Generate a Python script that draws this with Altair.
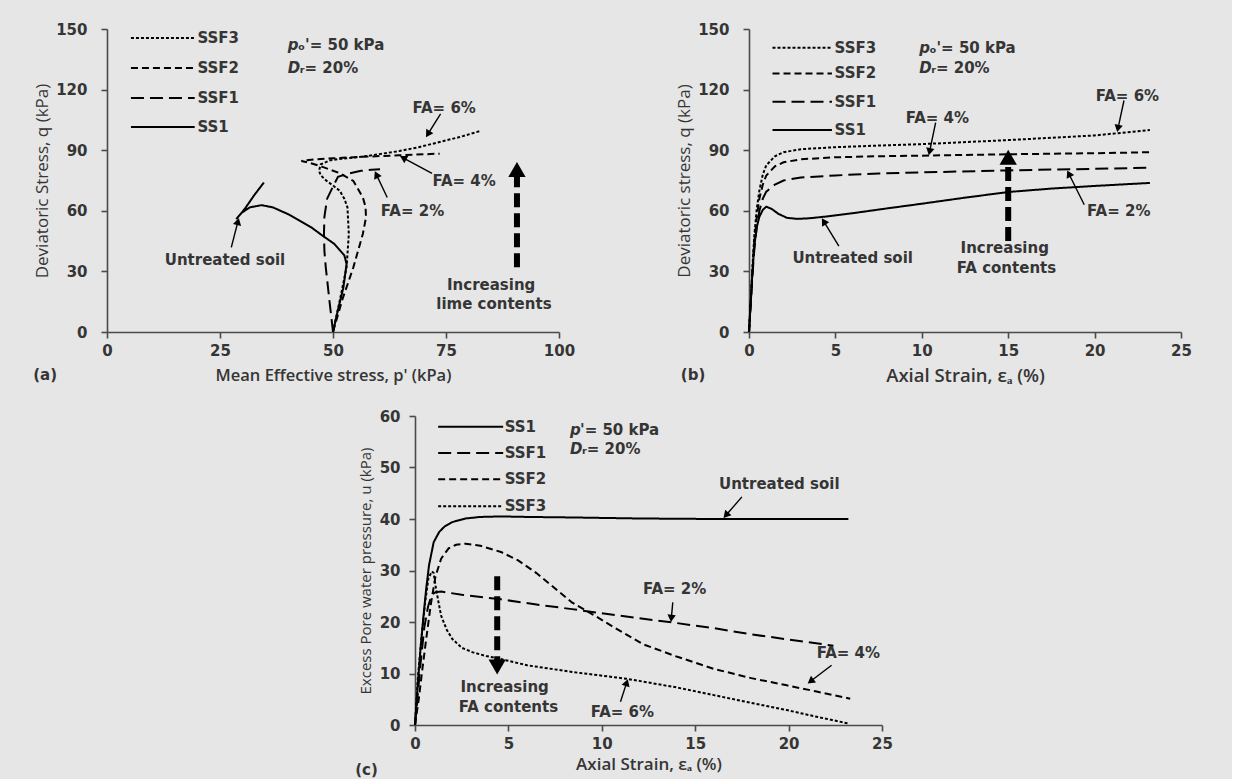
import math
import altair as alt
import pandas as pd

# ---------------------------------------------------------------- data
SERIES = ["SS1", "SSF1", "SSF2", "SSF3"]
DASHES = [[1, 0], [13, 6], [7, 4], [3, 2]]

# (a) stress paths: mean effective stress p' (kPa) vs deviatoric stress q (kPa)
A_SS1_P = [50, 51, 52.3, 53, 52.5, 50.3, 47.5, 45.2, 42.5, 40, 36.7, 34.2, 31.6, 29.9, 28.6, 30.5, 32.5, 34.7]
A_SS1_Q = [0, 10, 22, 33.7, 38, 43.6, 48, 51.8, 55.3, 58.4, 61.7, 62.8, 61.7, 59.2, 55.9, 61, 67.5, 74]
A_SSF1_P = [50, 49.6, 49.2, 48.8, 48.4, 48.1, 48, 48.1, 48.7, 50, 51.1, 53.5, 56.2, 58.5, 60.4]
A_SSF1_Q = [0, 8, 15.6, 24, 32, 40, 48.5, 57, 66, 72, 76.8, 78.5, 79.8, 80.3, 80.6]
A_SSF2_P = [50, 52, 54.5, 56.6, 57.3, 57.2, 56.6, 54.5, 51.5, 48, 45.5, 44, 43, 46, 50, 56.2, 64.7, 73.6]
A_SSF2_Q = [0, 15.6, 32, 48.5, 56.7, 62, 66.6, 74.8, 78.6, 81.5, 83.3, 84.2, 84.7, 85.5, 86, 86.7, 87.5, 88.3]
A_SSF3_P = [50, 51.5, 53, 53.5, 53.2, 52.5, 51.5, 50, 48.6, 47.3, 46.9, 47.3, 49.4, 52, 56.2, 60, 64.7, 69, 73.1, 78, 82.6]
A_SSF3_Q = [0, 15.6, 32, 48.5, 61.7, 66, 69.9, 72.5, 74.8, 77.5, 79.8, 83, 85, 85.8, 86.7, 88, 89.6, 91.5, 93.8, 96.5, 99.5]

# (b) axial strain (%) vs deviatoric stress q (kPa)
B_SS1_E = [0, 0.1, 0.2, 0.3, 0.45, 0.6, 0.8, 1.0, 1.3, 1.7, 2.2, 2.8, 3.5, 4.5, 6, 8, 10, 12.5, 15, 17.5, 20, 23.2]
B_SS1_Q = [0, 15, 30, 42, 52, 57, 60.5, 62, 61, 58.5, 56.5, 56, 56.3, 57.2, 58.8, 61.2, 63.5, 66.5, 69.3, 71, 72.3, 73.8]
B_E = [0, 0.1, 0.2, 0.3, 0.45, 0.6, 0.8, 1.0, 1.5, 2, 3, 5, 7.5, 10, 15, 20, 23.2]
B_SSF1_Q = [0, 14, 28, 40, 52, 60, 66, 69.5, 73, 75, 76.5, 77.5, 78.5, 79, 80, 80.8, 81.3]
B_SSF2_Q = [0, 14, 30, 44, 57, 66, 73, 77.5, 82, 84, 85.5, 86.5, 87, 87.3, 88, 88.5, 89]
B_SSF3_Q = [0, 15, 32, 47, 61, 70, 78, 82.5, 87, 89, 90.5, 91.5, 92.3, 93, 95, 97.3, 100]

# (c) axial strain (%) vs excess pore water pressure u (kPa)
C_SS1_E = [0, 0.15, 0.3, 0.45, 0.6, 0.75, 1.0, 1.3, 1.6, 2.0, 2.7, 3.5, 4.6, 6, 8.4, 12, 16, 20, 23.2]
C_SS1_U = [0, 8, 15, 21, 26.5, 31, 35.5, 37.5, 38.6, 39.4, 40.1, 40.4, 40.5, 40.4, 40.3, 40.1, 40, 40, 40]
C_SSF1_E = [0, 0.15, 0.3, 0.5, 0.7, 0.9, 1.1, 1.4, 2.5, 4.6, 6.5, 8.4, 11, 13.8, 16, 18, 20, 22.4]
C_SSF1_U = [0, 6, 12, 19, 23, 25.3, 25.8, 25.9, 25.3, 24.4, 23.4, 22.5, 21.2, 19.9, 18.8, 17.6, 16.6, 15.4]
C_SSF2_E = [0, 0.2, 0.4, 0.6, 0.85, 1.1, 1.4, 1.8, 2.2, 2.7, 3.5, 4.6, 5.5, 6.5, 7.5, 8.4, 9.5, 10.5, 12.2, 14, 16, 18, 19.9, 21.5, 23.3]
C_SSF2_U = [0, 5, 11, 16.7, 23.5, 28.9, 32.3, 34.3, 35, 35.2, 34.8, 33.6, 32, 29.5, 26.5, 23.8, 21.5, 19.3, 15.7, 13.3, 10.9, 9.1, 7.7, 6.5, 5.1]
C_SSF3_E = [0, 0.15, 0.34, 0.55, 0.72, 0.9, 1.0, 1.1, 1.25, 1.4, 1.7, 2.0, 2.5, 3.1, 3.8, 4.6, 6, 8.4, 11.3, 14, 16, 18, 19.9, 21.5, 23.2]
C_SSF3_U = [0, 9, 16.7, 24, 28.5, 29.8, 29.5, 27, 24, 21.2, 18.5, 16.7, 15, 14.1, 13.4, 12.8, 11.6, 10.3, 9, 7.3, 5.8, 4.3, 2.9, 1.6, 0.3]

# legends (series order, row positions, line x-range, label x)
A_LEG = (["SSF3", "SSF2", "SSF1", "SS1"], [145.5, 130.7, 115.8, 101.5], (5.3, 19.4, 20.0))
B_LEG = (["SSF3", "SSF2", "SSF1", "SS1"], [140.7, 128.0, 114.0, 100.0], (1.36, 4.8, 4.95))
C_LEG = (["SS1", "SSF1", "SSF2", "SSF3"], [57.9, 52.8, 47.7, 42.5], (1.24, 4.72, 4.8))

# labelled arrows: (text x, text y, text, tail x, tail y, tip x, tip y)
A_NOTES = [(74.6, 111, "FA= 6%", 73.8, 108, 70.5, 96.2),
           (79.0, 74.8, "FA= 4%", 71.9, 78.5, 64.7, 87.2),
           (67.6, 59.7, "FA= 2%", 62.0, 66.6, 59.2, 79.8),
           (26.1, 35.4, "Untreated soil", 27.5, 41.9, 29.2, 56.7)]
B_NOTES = [(10.9, 106, "FA= 4%", 10.8, 103.6, 10.4, 87.2),
           (21.9, 117, "FA= 6%", 21.7, 114.6, 21.3, 98.7),
           (21.4, 60, "FA= 2%", 19.4, 63, 18.4, 80.2),
           (6.0, 36.5, "Untreated soil", 5.2, 42.5, 4.2, 56.5)]
C_NOTES = [(19.5, 46.7, "Untreated soil", 17.5, 44.3, 16.5, 40.1),
           (13.9, 26.5, "FA= 2%", 13.8, 23.8, 13.7, 19.9),
           (23.2, 14.0, "FA= 4%", 22.3, 11.6, 21.0, 8.0),
           (11.1, 2.6, "FA= 6%", 11.0, 4.5, 11.4, 9.0)]

# thick dashed arrows: (x, y tail, y tip), captions
A_BIG = (90.7, 32, 84.7, [(85.0, 23.3, "Increasing"), (85.6, 13.9, "lime contents")])
B_BIG = (15.0, 45, 90.8, [(14.8, 41.4, "Increasing"), (14.9, 31.9, "FA contents")])
C_BIG = (4.4, 28.9, 9.6, [(4.8, 7.4, "Increasing"), (5.0, 3.5, "FA contents")])

# test-condition text: (x, y1, y2, rest of first line)
A_COND = (40.0, 142.0, 130.7, "ₒ'= 50 kPa")
B_COND = (9.85, 140.6, 130.7, "ₒ'= 50 kPa")
C_COND = (8.3, 57.3, 53.6, "'= 50 kPa")

# panel labels
A_LAB = (-13.7, -21.5, "(a)")
B_LAB = (-3.24, -21.5, "(b)")
C_LAB = (-2.6, -8.7, "(c)")

# ---------------------------------------------------------------- styling
INK = "#353535"
ANN = dict(font="DejaVu Sans", fontWeight="bold", fontSize=15, color=INK, baseline="middle")


def panel(curves, leg, notes, big, cond, lab, xdom, ydom, xticks, yticks,
          xtitle, ytitle, w, h, ylp, ytp, xtp, xts, yts):
    sx = w / (xdom[1] - xdom[0])
    sy = h / (ydom[1] - ydom[0])
    xs = alt.Scale(domain=xdom, nice=False, zero=False)
    ys = alt.Scale(domain=ydom, nice=False, zero=False)
    xax = alt.Axis(values=xticks, title=xtitle, labelFlush=False, grid=False,
                   tickSize=6, labelPadding=5, titlePadding=xtp, titleFontSize=xts)
    yax = alt.Axis(values=yticks, title=ytitle, grid=False, tickSize=6,
                   labelPadding=ylp, titlePadding=ytp, titleFontSize=yts)

    def X(f):
        return alt.X(f, type="quantitative", scale=xs, axis=xax)

    def Y(f):
        return alt.Y(f, type="quantitative", scale=ys, axis=yax)

    dash = alt.StrokeDash("s:N", scale=alt.Scale(domain=SERIES, range=DASHES), legend=None)
    layers = []

    rows = []
    for s, (xv, yv) in curves.items():
        for i, (a, b) in enumerate(zip(xv, yv)):
            rows.append({"x": a, "y": b, "s": s, "i": i})
    layers.append(alt.Chart(pd.DataFrame(rows)).mark_line(color="black", strokeWidth=2)
                  .encode(x=X("x"), y=Y("y"), strokeDash=dash, order="i:Q"))

    names, ly, (lx1, lx2, ltx) = leg
    ldf = pd.DataFrame({"s": names, "y": ly, "x": [lx1] * 4, "x2": [lx2] * 4, "tx": [ltx] * 4})
    layers.append(alt.Chart(ldf).mark_rule(color="black", strokeWidth=2)
                  .encode(x=X("x"), x2="x2:Q", y=Y("y"), strokeDash=dash))
    layers.append(alt.Chart(ldf).mark_text(align="left", **ANN)
                  .encode(x=X("tx"), y=Y("y"), text="s:N"))

    # thin arrows with heads
    r = math.sqrt(70) / 2
    arr = []
    for tx, ty, t, x1, y1, x2, y2 in notes:
        ddx, ddy = (x2 - x1) * sx, (y2 - y1) * sy
        L = math.hypot(ddx, ddy)
        cx, cy = x2 - r * ddx / L / sx, y2 - r * ddy / L / sy
        ang = math.degrees(math.atan2(ddx, ddy)) % 360
        arr.append({"tx": tx, "ty": ty, "t": t, "x": x1, "y": y1, "x2": cx, "y2": cy,
                    "ang": ang})
    adf = pd.DataFrame(arr)
    layers.append(alt.Chart(adf).mark_rule(color="black", strokeWidth=1.4)
                  .encode(x=X("x"), y=Y("y"), x2="x2:Q", y2="y2:Q"))
    layers.append(alt.Chart(adf).mark_point(shape="triangle-up", filled=True, size=70,
                                           color="black", opacity=1)
                  .encode(x=X("x2"), y=Y("y2"), angle=alt.Angle("ang:Q", scale=None)))
    layers.append(alt.Chart(adf).mark_text(align="center", **ANN)
                  .encode(x=X("tx"), y=Y("ty"), text="t:N"))

    # thick dashed arrow
    bx, by1, by2, caps = big
    R = math.sqrt(300) / 2
    sgn = 1 if by2 > by1 else -1
    hy = by2 - sgn * R / sy
    bdf = pd.DataFrame({"x": [bx], "y": [by1], "y2": [hy - sgn * R * 0.6 / sy],
                        "hy": [hy], "ang": [0 if sgn > 0 else 180]})
    layers.append(alt.Chart(bdf).mark_rule(color="black", strokeWidth=6, strokeDash=[14, 6])
                  .encode(x=X("x"), y=Y("y"), y2="y2:Q"))
    layers.append(alt.Chart(bdf).mark_point(shape="triangle-up", filled=True, size=300,
                                           color="black", opacity=1)
                  .encode(x=X("x"), y=Y("hy"), angle=alt.Angle("ang:Q", scale=None)))
    cdf = pd.DataFrame({"x": [c[0] for c in caps], "y": [c[1] for c in caps],
                        "t": [c[2] for c in caps]})
    layers.append(alt.Chart(cdf).mark_text(align="center", **ANN)
                  .encode(x=X("x"), y=Y("y"), text="t:N"))

    # test conditions
    cx0, cy1, cy2, rest = cond
    it = pd.DataFrame({"x": [cx0, cx0], "y": [cy1, cy2], "t": ["p", "D"]})
    layers.append(alt.Chart(it).mark_text(align="left", fontStyle="italic", **ANN)
                  .encode(x=X("x"), y=Y("y"), text="t:N"))
    layers.append(alt.Chart(pd.DataFrame({"x": [cx0], "y": [cy1], "t": [rest]}))
                  .mark_text(align="left", dx=10, **ANN)
                  .encode(x=X("x"), y=Y("y"), text="t:N"))
    layers.append(alt.Chart(pd.DataFrame({"x": [cx0], "y": [cy2], "t": ["ᵣ= 20%"]}))
                  .mark_text(align="left", dx=12, **ANN)
                  .encode(x=X("x"), y=Y("y"), text="t:N"))

    # panel label
    layers.append(alt.Chart(pd.DataFrame({"x": [lab[0]], "y": [lab[1]], "t": [lab[2]]}))
                  .mark_text(align="center", **ANN)
                  .encode(x=X("x"), y=Y("y"), text="t:N"))

    return alt.layer(*layers).properties(width=w, height=h)


pa = panel({"SS1": (A_SS1_P, A_SS1_Q), "SSF1": (A_SSF1_P, A_SSF1_Q),
            "SSF2": (A_SSF2_P, A_SSF2_Q), "SSF3": (A_SSF3_P, A_SSF3_Q)},
           A_LEG, A_NOTES, A_BIG, A_COND, A_LAB, [0, 100], [0, 150],
           [0, 25, 50, 75, 100], [0, 30, 60, 90, 120, 150],
           "Mean Effective stress, p' (kPa)", "Deviatoric Stress, q (kPa)",
           452, 303, 14, 4, 9, 16.5, 17)

pb = panel({"SS1": (B_SS1_E, B_SS1_Q), "SSF1": (B_E, B_SSF1_Q),
            "SSF2": (B_E, B_SSF2_Q), "SSF3": (B_E, B_SSF3_Q)},
           B_LEG, B_NOTES, B_BIG, B_COND, B_LAB, [0, 25], [0, 150],
           [0, 5, 10, 15, 20, 25], [0, 30, 60, 90, 120, 150],
           "Axial Strain, εₐ (%)", "Deviatoric stress, q (kPa)",
           432, 303, 14, 4, 8, 18.5, 17)

pc = panel({"SS1": (C_SS1_E, C_SS1_U), "SSF1": (C_SSF1_E, C_SSF1_U),
            "SSF2": (C_SSF2_E, C_SSF2_U), "SSF3": (C_SSF3_E, C_SSF3_U)},
           C_LEG, C_NOTES, C_BIG, C_COND, C_LAB, [0, 25], [0, 60],
           [0, 5, 10, 15, 20, 25], [0, 10, 20, 30, 40, 50, 60],
           "Axial Strain, εₐ (%)", "Excess Pore water  pressure, u (kPa)",
           467, 309, 9, 6, 5, 17, 15)

spacer = (alt.Chart(pd.DataFrame({"v": [0]})).mark_point(opacity=0)
          .encode(x=alt.X("v:Q", axis=None), y=alt.Y("v:Q", axis=None))
          .properties(width=248, height=20))

top = alt.hconcat(pa, pb, spacing=100)
bottom = alt.hconcat(spacer, pc, spacing=0)

chart = (alt.vconcat(top, bottom, spacing=24)
         .properties(background="#e6e6e6",
                     padding={"left": 33, "top": 22, "right": 40, "bottom": 1})
         .configure_view(stroke=None)
         .configure_axis(domainColor="#4a4a4a", domainWidth=1.6, tickColor="#4a4a4a",
                         tickWidth=1.6, labelFont="DejaVu Sans", labelFontWeight="bold",
                         labelFontSize=15, labelColor=INK, titleFont="Open Sans",
                         titleColor=INK)
         .configure_axisX(titleFontWeight=600)
         .configure_axisY(titleFontWeight="normal"))

chart.save("out.html", embed_options={"renderer": "svg", "actions": False})
